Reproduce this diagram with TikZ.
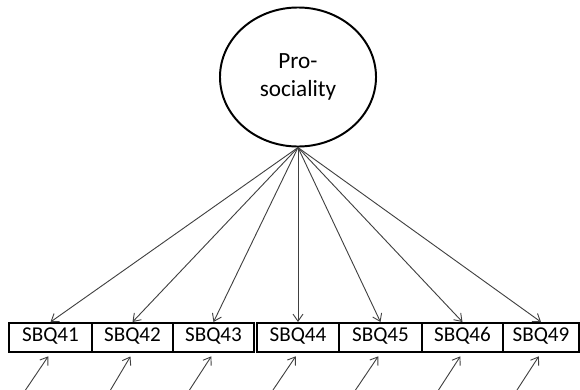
\documentclass[tikz,border=0pt]{standalone}
\usepackage{fontspec}
\setmainfont{Carlito}
\usetikzlibrary{shapes.geometric,arrows.meta}

\def\boxy{337.5}
\def\erry{390}

\begin{document}
\begin{tikzpicture}[x=0.025cm,y=-0.025cm,
    item/.style={draw=black,line width=1.4pt,minimum height=0.725cm,inner sep=0pt,
        text height=7.5pt,text depth=1.5pt,font=\fontsize{15}{18}\selectfont},
    factor/.style={ellipse,draw=black,line width=1.4pt,minimum width=3.9cm,
        minimum height=3.475cm,inner sep=0pt,align=center,font=\fontsize{16.5}{19.5}\selectfont},
    loading/.style={draw=black!75,line width=0.65pt,-{Straight Barb[length=5pt,width=7pt]}},
    error/.style={loading,shorten >=0.1cm}]
        \useasboundingbox (0,0) rectangle (580,389);
        \node[factor] (prosoc) at (298,77) {Pro-\\sociality};
        % items
        \node[item,minimum width=2.075cm] (q41) at (50.5,\boxy) {SBQ41};
        \node[item,minimum width=2.025cm] (q42) at (132.5,\boxy) {SBQ42};
        \node[item,minimum width=2.025cm] (q43) at (213.5,\boxy) {SBQ43};
        \node[item,minimum width=2.05cm] (q44) at (298,\boxy) {SBQ44};
        \node[item,minimum width=2.075cm] (q45) at (380.5,\boxy) {SBQ45};
        \node[item,minimum width=2.025cm] (q46) at (462.5,\boxy) {SBQ46};
        \node[item,minimum width=1.9cm] (q49) at (541,\boxy) {SBQ49};
        % loadings
        \draw[loading] (prosoc.south) -- (q41.north);
        \draw[loading] (prosoc.south) -- (q42.north);
        \draw[loading] (prosoc.south) -- (q43.north);
        \draw[loading] (prosoc.south) -- (q44.north);
        \draw[loading] (prosoc.south) -- (q45.north);
        \draw[loading] (prosoc.south) -- (q46.north);
        \draw[loading] (prosoc.south) -- (q49.north);
        % errors
        \coordinate (e41) at (25.5,\erry);
        \coordinate (e42) at (110.5,\erry);
        \coordinate (e43) at (189.5,\erry);
        \coordinate (e44) at (273,\erry);
        \coordinate (e45) at (355.5,\erry);
        \coordinate (e46) at (438.5,\erry);
        \coordinate (e49) at (517,\erry);
        \draw[error] (e41) -- (q41.south);
        \draw[error] (e42) -- (q42.south);
        \draw[error] (e43) -- (q43.south);
        \draw[error] (e44) -- (q44.south);
        \draw[error] (e45) -- (q45.south);
        \draw[error] (e46) -- (q46.south);
        \draw[error] (e49) -- (q49.south);
\end{tikzpicture}
\end{document}
